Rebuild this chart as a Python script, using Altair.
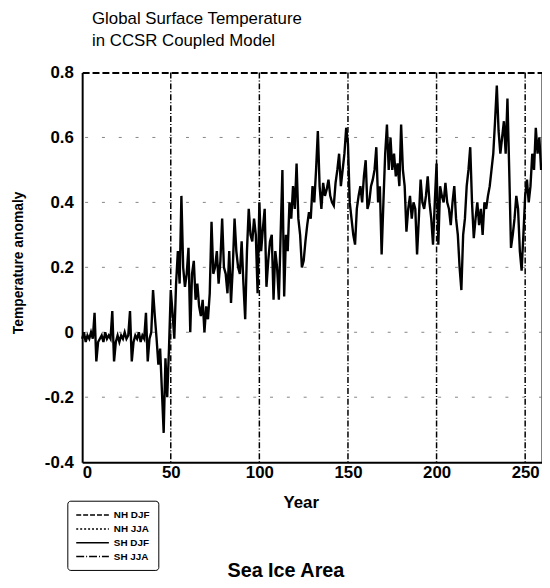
import altair as alt
import pandas as pd

title_lines = ["Global Surface Temperature", "in CCSR Coupled Model"]
x_title = "Year"
y_title = "Temperature anomaly"
footer_text = "Sea Ice Area"

years = list(range(260))
temp = [
    -0.02, 0.00, -0.03, -0.01, -0.02, 0.00, -0.02, 0.06, -0.09, -0.03,
    -0.02, -0.01, -0.03, 0.00, -0.02, -0.01, -0.02, 0.065, -0.09, -0.03,
    -0.01, -0.03, -0.01, -0.02, 0.00, -0.02, -0.01, 0.065, -0.09, -0.03,
    -0.01, -0.02, 0.00, -0.03, -0.01, -0.02, 0.06, -0.09, -0.02, 0.00,
    0.13, 0.05, -0.02, -0.10, -0.05, -0.18, -0.31, -0.08, -0.20, -0.05,
    0.13, 0.06, -0.02, 0.15, 0.25, 0.15, 0.42, 0.20, 0.14, 0.18,
    0.26, 0.00, 0.18, 0.22, 0.10, 0.15, 0.08, 0.05, 0.10, 0.00,
    0.08, 0.04, 0.12, 0.34, 0.18, 0.20, 0.25, 0.15, 0.22, 0.35,
    0.20, 0.18, 0.12, 0.25, 0.09, 0.20, 0.35, 0.25, 0.20, 0.18,
    0.28, 0.15, 0.04, 0.25, 0.38, 0.30, 0.28, 0.35, 0.30, 0.12,
    0.40, 0.25, 0.32, 0.38, 0.14, 0.22, 0.28, 0.30, 0.10, 0.25,
    0.20, 0.10, 0.30, 0.50, 0.11, 0.30, 0.25, 0.40, 0.35, 0.45,
    0.38, 0.52, 0.35, 0.30, 0.20, 0.22, 0.28, 0.33, 0.37, 0.35,
    0.45, 0.40, 0.50, 0.62, 0.45, 0.38, 0.46, 0.42, 0.44, 0.47,
    0.42, 0.40, 0.39, 0.46, 0.50, 0.55, 0.45, 0.50, 0.55, 0.63,
    0.58, 0.40, 0.35, 0.30, 0.27, 0.38, 0.42, 0.45, 0.40, 0.48,
    0.53, 0.38, 0.40, 0.45, 0.47, 0.50, 0.57, 0.40, 0.45, 0.24,
    0.40, 0.55, 0.64, 0.50, 0.60, 0.50, 0.55, 0.48, 0.52, 0.45,
    0.64, 0.50, 0.45, 0.31, 0.38, 0.42, 0.35, 0.40, 0.38, 0.24,
    0.35, 0.47, 0.40, 0.38, 0.42, 0.48, 0.40, 0.35, 0.27, 0.40,
    0.52, 0.27, 0.45, 0.42, 0.40, 0.46, 0.40, 0.38, 0.33, 0.40,
    0.45, 0.35, 0.30, 0.20, 0.13, 0.30, 0.35, 0.45, 0.50, 0.57,
    0.40, 0.29, 0.35, 0.40, 0.33, 0.38, 0.30, 0.40, 0.38, 0.42,
    0.45, 0.50, 0.55, 0.65, 0.76, 0.62, 0.55, 0.60, 0.65, 0.55,
    0.72, 0.50, 0.26, 0.30, 0.35, 0.42, 0.38, 0.25, 0.19, 0.30,
    0.42, 0.47, 0.40, 0.45, 0.55, 0.50, 0.63, 0.55, 0.60, 0.50,
]

rule_years = [50, 100, 150, 200, 250]
grid_values = [0.6, 0.4, 0.2, 0.0, -0.2]
x_ticks = [0, 50, 100, 150, 200, 250]
y_ticks = [-0.4, -0.2, 0.0, 0.2, 0.4, 0.6, 0.8]
legend_names = ["NH DJF", "NH JJA", "SH DJF", "SH JJA"]
legend_dashes = [[5, 2], [2, 2], [1, 0], [8, 2, 1, 2]]

FONT = "Liberation Sans"

df = pd.DataFrame({"year": years, "temp": temp})
xscale = alt.Scale(domain=[0, 259.5], nice=False, zero=False)
yscale = alt.Scale(domain=[-0.4, 0.8], nice=False, zero=False)

line = alt.Chart(df).mark_line(color="black", strokeWidth=2.4).encode(
    x=alt.X("year:Q", scale=xscale, axis=alt.Axis(
        orient="bottom", values=x_ticks, title=x_title, grid=False, ticks=False,
        domainColor="black", domainWidth=2, labelColor="black",
        labelFont=FONT, labelFontSize=17, labelFontWeight="bold", labelPadding=3,
        titleFont=FONT, titleFontSize=17, titleFontWeight="bold", titleColor="black",
        titleX=221, titleY=33)),
    y=alt.Y("temp:Q", scale=yscale, axis=alt.Axis(
        orient="left", values=y_ticks, title=y_title, grid=False, ticks=False,
        labelExpr="datum.value < 0 ? '-' + format(-datum.value, '.1f') : (datum.value == 0 ? '0' : format(datum.value, '.1f'))",
        domainColor="black", domainWidth=2, labelColor="black",
        labelFont=FONT, labelFontSize=17, labelFontWeight="bold", labelPadding=9,
        titleFont=FONT, titleFontSize=14, titleFontWeight="bold", titleColor="black",
        titleX=-57, titleY=192)),
)

rules = alt.Chart(pd.DataFrame({"year": rule_years})).mark_rule(
    color="black", strokeWidth=1.5, strokeDash=[6, 2, 1, 2]
).encode(
    x=alt.X("year:Q", scale=xscale, axis=alt.Axis(
        orient="top", labels=False, ticks=False, title="", grid=False,
        domainColor="black", domainWidth=2, domainDash=[7, 3])),
)

grid = alt.Chart(pd.DataFrame({"v": grid_values})).mark_rule(
    color="#666", strokeWidth=1, strokeDash=[3, 14], opacity=0.8
).encode(
    y=alt.Y("v:Q", scale=yscale, axis=alt.Axis(
        orient="right", labels=False, ticks=False, title="", grid=False,
        domainColor="black", domainWidth=2)),
)

leg = alt.Chart(pd.DataFrame({"series": legend_names})).mark_line(color="black").encode(
    x=alt.value(0),
    y=alt.value(0),
    strokeDash=alt.StrokeDash("series:N", scale=alt.Scale(domain=legend_names, range=legend_dashes),
        legend=alt.Legend(
            title=None, orient="none", legendX=-15, legendY=433,
            symbolType="M-1,0H5", symbolSize=121, symbolStrokeWidth=1.5,
            symbolStrokeColor="black",
            labelFont=FONT, labelFontSize=10, labelFontWeight="bold",
            labelColor="black", labelOffset=26, rowPadding=2, padding=8,
            strokeColor="black", cornerRadius=3, fillColor="white")),
)

foot = alt.Chart(pd.DataFrame({"t": [footer_text]})).mark_text(
    font=FONT, fontSize=20, fontWeight="bold", color="black", align="center", baseline="alphabetic"
).encode(text="t:N", x=alt.value(206), y=alt.value(510))

chart = alt.layer(grid, rules, line, leg, foot).resolve_axis(
    x="independent", y="independent"
).properties(
    width=465, height=394,
    autosize=alt.AutoSizeParams(type="none"),
    padding={"left": 75, "top": 62, "right": 0, "bottom": 122},
    title=alt.Title(title_lines, anchor="start", frame="group", dx=10, offset=14,
                    font=FONT, fontSize=17, fontWeight="normal", color="black", lineHeight=22),
).configure_view(stroke=None)

chart.save("out.html", embed_options={"renderer": "svg", "actions": False})
